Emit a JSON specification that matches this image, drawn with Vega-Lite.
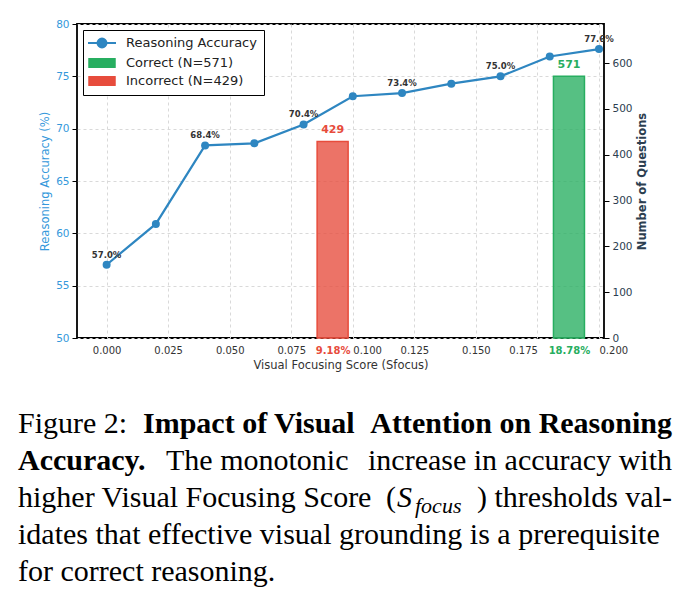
{
  "$schema": "https://vega.github.io/schema/vega-lite/v6.json",
  "width": 527,
  "height": 314,
  "autosize": {"type": "none"},
  "padding": {"left": 77, "top": 24, "right": 88, "bottom": 264},
  "background": "white",
  "config": {
    "view": {"stroke": "#000000", "strokeWidth": 1.8},
    "font": "DejaVu Sans"
  },
  "datasets": {
    "acc": [
      {"s": 0.0, "acc": 57.0, "label": "57.0%"},
      {"s": 0.02, "acc": 60.9, "label": null},
      {"s": 0.04, "acc": 68.4, "label": "68.4%"},
      {"s": 0.06, "acc": 68.6, "label": null},
      {"s": 0.08, "acc": 70.4, "label": "70.4%"},
      {"s": 0.10, "acc": 73.1, "label": null},
      {"s": 0.12, "acc": 73.4, "label": "73.4%"},
      {"s": 0.14, "acc": 74.3, "label": null},
      {"s": 0.16, "acc": 75.0, "label": "75.0%"},
      {"s": 0.18, "acc": 76.9, "label": null},
      {"s": 0.20, "acc": 77.6, "label": "77.6%"}
    ],
    "bars": [
      {"type": "Incorrect (N=429)", "s": 0.0918, "n": 429},
      {"type": "Correct (N=571)", "s": 0.1878, "n": 571}
    ],
    "caption": [
      {"line": 1, "role": "start", "text": "Figure 2:"},
      {"line": 1, "role": "midBold", "text": "Impact of Visual"},
      {"line": 1, "role": "endBold", "text": "Attention on Reasoning"},
      {"line": 2, "role": "startBold", "text": "Accuracy."},
      {"line": 2, "role": "mid", "text": "The monotonic"},
      {"line": 2, "role": "end", "text": "increase in accuracy with"},
      {"line": 3, "role": "start", "text": "higher Visual Focusing Score"},
      {"line": 3, "role": "paren", "text": "("},
      {"line": 3, "role": "symbol", "text": "S"},
      {"line": 3, "role": "subscript", "text": "focus"},
      {"line": 3, "role": "end", "text": ") thresholds val-"},
      {"line": 4, "role": "start", "text": "idates that effective visual grounding is a prerequisite"},
      {"line": 5, "role": "start", "text": "for correct reasoning."}
    ]
  },
  "layer": [
    {
      "data": {"name": "bars"},
      "encoding": {
        "x": {
          "field": "s", "type": "quantitative",
          "scale": {"domain": [-0.01, 0.2], "nice": false, "zero": false},
          "axis": {
            "values": [0, 0.025, 0.05, 0.075, 0.0918, 0.1, 0.125, 0.15, 0.175, 0.1878, 0.2],
            "labelExpr": "datum.value == 0.0918 ? '9.18%' : (datum.value == 0.1878 ? '18.78%' : format(datum.value, '.3f'))",
            "labelColor": {"condition": [{"test": "datum.value == 0.0918", "value": "#e74c3c"}, {"test": "datum.value == 0.1878", "value": "#27ae60"}], "value": "#333333"},
            "labelFontWeight": {"condition": {"test": "datum.value == 0.0918 || datum.value == 0.1878", "value": "bold"}, "value": "normal"},
            "labelAlign": {"condition": [{"test": "datum.value == 0.1 || datum.value == 0.2", "value": "left"}, {"test": "datum.value == 0.175", "value": "right"}], "value": "center"},
            "gridOpacity": {"condition": {"test": "datum.value == 0.0918 || datum.value == 0.1878", "value": 0}, "value": 1},
            "grid": true,
            "gridDash": [3, 3],
            "gridColor": "#d9d9d9",
            "ticks": false,
            "domain": false,
            "labelPadding": 7,
            "labelFontSize": 10,
            "labelFlush": false,
            "labelOverlap": false,
            "title": "Visual Focusing Score (Sfocus)",
            "titleFontSize": 11.5,
            "titleFontWeight": "normal",
            "titleColor": "#333333",
            "titlePadding": 4
          }
        },
        "y": {
          "field": "n", "type": "quantitative",
          "scale": {"domain": [0, 685.2], "nice": false},
          "axis": {
            "orient": "right",
            "values": [0, 100, 200, 300, 400, 500, 600],
            "grid": false,
            "domain": false,
            "tickSize": 5,
            "tickColor": "#000000",
            "labelColor": "#2c3e50",
            "labelFontSize": 10.5,
            "labelPadding": 3,
            "title": "Number of Questions",
            "titleFontWeight": "bold",
            "titleFontSize": 11.5,
            "titleColor": "#2c3e50",
            "titleAngle": 270,
            "titlePadding": 15
          }
        }
      },
      "layer": [
        {
          "mark": {"type": "bar", "width": 31, "fillOpacity": 0.78, "strokeWidth": 1.5},
          "encoding": {
            "color": {
              "field": "type", "type": "nominal",
              "scale": {"domain": ["Reasoning Accuracy", "Correct (N=571)", "Incorrect (N=429)"], "range": ["#2e86c1", "#27ae60", "#e74c3c"]},
              "legend": {
                "title": null,
                "orient": "top-left",
                "offset": 6,
                "padding": 6.5,
                "strokeColor": "#000000",
                "fillColor": "#ffffff",
                "cornerRadius": 0,
                "labelFont": "DejaVu Sans",
                "labelFontSize": 13,
                "labelColor": "#222222",
                "symbolSize": 306,
                "symbolOffset": 6,
                "labelOffset": 17.5,
                "rowPadding": 3,
                "encode": {
                  "symbols": {
                    "update": {
                      "shape": {"signal": "datum.value === 'Reasoning Accuracy' ? 'M-1.6,0H1.6M-0.5,0A0.5,0.5,0,1,1,0.5,0A0.5,0.5,0,1,1,-0.5,0' : 'M-1.5,-0.5H1.5V0.5H-1.5Z'"},
                      "fill": {"signal": "datum.value === 'Reasoning Accuracy' ? '#2e86c1' : (datum.value === 'Correct (N=571)' ? '#5bbd84' : '#ec7366')"},
                      "stroke": {"signal": "datum.value === 'Reasoning Accuracy' ? '#2e86c1' : (datum.value === 'Correct (N=571)' ? '#27ae60' : '#e74c3c')"},
                      "strokeWidth": {"signal": "datum.value === 'Reasoning Accuracy' ? 2.2 : 1.2"},
                      "opacity": {"value": 1},
                      "fillOpacity": {"value": 1},
                      "strokeOpacity": {"value": 1}
                    }
                  }
                }
              }
            },
            "stroke": {
              "field": "type", "type": "nominal",
              "scale": {"domain": ["Correct (N=571)", "Incorrect (N=429)"], "range": ["#27ae60", "#e74c3c"]},
              "legend": null
            }
          }
        },
        {
          "mark": {"type": "text", "baseline": "middle", "dy": -11, "fontSize": 11, "fontWeight": "bold"},
          "encoding": {
            "text": {"field": "n", "type": "quantitative"},
            "fill": {
              "field": "type", "type": "nominal",
              "scale": {"domain": ["Correct (N=571)", "Incorrect (N=429)"], "range": ["#27ae60", "#e74c3c"]},
              "legend": null
            }
          }
        }
      ]
    },
    {
      "data": {"name": "acc"},
      "encoding": {
        "x": {"field": "s", "type": "quantitative"},
        "y": {
          "field": "acc", "type": "quantitative",
          "scale": {"domain": [50, 80], "nice": false, "zero": false},
          "axis": {
            "orient": "left",
            "values": [50, 55, 60, 65, 70, 75, 80],
            "grid": true,
            "gridDash": [3, 3],
            "gridColor": "#d9d9d9",
            "domain": false,
            "tickSize": 5,
            "tickColor": "#000000",
            "labelColor": "#3498db",
            "labelFontSize": 10.5,
            "labelPadding": 3,
            "title": "Reasoning Accuracy (%)",
            "titleColor": "#3498db",
            "titleFontWeight": "normal",
            "titleFontSize": 11.5,
            "titlePadding": 5
          }
        }
      },
      "layer": [
        {"mark": {"type": "line", "color": "#2e86c1", "strokeWidth": 2.2}},
        {"mark": {"type": "point", "filled": true, "color": "#2e86c1", "size": 64, "opacity": 1}},
        {
          "transform": [{"filter": "datum.label != null"}],
          "mark": {"type": "text", "baseline": "middle", "dy": -10, "fontSize": 8.5, "fontWeight": "bold", "color": "#333333"},
          "encoding": {"text": {"field": "label", "type": "nominal"}}
        }
      ]
    },
    {
      "data": {"name": "caption"},
      "encoding": {
        "y": {"field": "line", "type": "ordinal", "scale": {"type": "point", "range": [409, 557], "padding": 0}, "axis": null}
      },
      "layer": [
        {
          "transform": [{"filter": "datum.role == 'start'"}],
          "mark": {"type": "text", "align": "left", "baseline": "alphabetic", "font": "Liberation Serif", "fontSize": 30, "color": "#000000", "dx": -59},
          "encoding": {"x": {"value": 0}, "text": {"field": "text", "type": "nominal"}}
        },
        {
          "transform": [{"filter": "datum.role == 'startBold'"}],
          "mark": {"type": "text", "align": "left", "baseline": "alphabetic", "font": "Liberation Serif", "fontSize": 30, "fontWeight": "bold", "color": "#000000", "dx": -59},
          "encoding": {"x": {"value": 0}, "text": {"field": "text", "type": "nominal"}}
        },
        {
          "transform": [{"filter": "datum.role == 'midBold'"}],
          "mark": {"type": "text", "align": "left", "baseline": "alphabetic", "font": "Liberation Serif", "fontSize": 30, "fontWeight": "bold", "color": "#000000", "dx": 66},
          "encoding": {"x": {"value": 0}, "text": {"field": "text", "type": "nominal"}}
        },
        {
          "transform": [{"filter": "datum.role == 'mid'"}],
          "mark": {"type": "text", "align": "left", "baseline": "alphabetic", "font": "Liberation Serif", "fontSize": 30, "color": "#000000", "dx": 89},
          "encoding": {"x": {"value": 0}, "text": {"field": "text", "type": "nominal"}}
        },
        {
          "transform": [{"filter": "datum.role == 'paren'"}],
          "mark": {"type": "text", "align": "left", "baseline": "alphabetic", "font": "Liberation Serif", "fontSize": 30, "color": "#000000", "dx": 309},
          "encoding": {"x": {"value": 0}, "text": {"field": "text", "type": "nominal"}}
        },
        {
          "transform": [{"filter": "datum.role == 'end'"}],
          "mark": {"type": "text", "align": "right", "baseline": "alphabetic", "font": "Liberation Serif", "fontSize": 30, "color": "#000000", "dx": 68},
          "encoding": {"x": {"value": "width"}, "text": {"field": "text", "type": "nominal"}}
        },
        {
          "transform": [{"filter": "datum.role == 'endBold'"}],
          "mark": {"type": "text", "align": "right", "baseline": "alphabetic", "font": "Liberation Serif", "fontSize": 30, "fontWeight": "bold", "color": "#000000", "dx": 68},
          "encoding": {"x": {"value": "width"}, "text": {"field": "text", "type": "nominal"}}
        },
        {
          "transform": [{"filter": "datum.role == 'symbol'"}],
          "mark": {"type": "text", "align": "left", "baseline": "alphabetic", "font": "Liberation Serif", "fontSize": 30, "fontStyle": "italic", "color": "#000000", "dx": 320},
          "encoding": {"x": {"value": 0}, "text": {"field": "text", "type": "nominal"}}
        },
        {
          "transform": [{"filter": "datum.role == 'subscript'"}],
          "mark": {"type": "text", "align": "left", "baseline": "alphabetic", "font": "Liberation Serif", "fontSize": 22, "fontStyle": "italic", "color": "#000000", "dx": 338, "dy": 6},
          "encoding": {"x": {"value": 0}, "text": {"field": "text", "type": "nominal"}}
        }
      ]
    }
  ],
  "resolve": {"scale": {"y": "independent"}, "axis": {"y": "independent"}}
}
